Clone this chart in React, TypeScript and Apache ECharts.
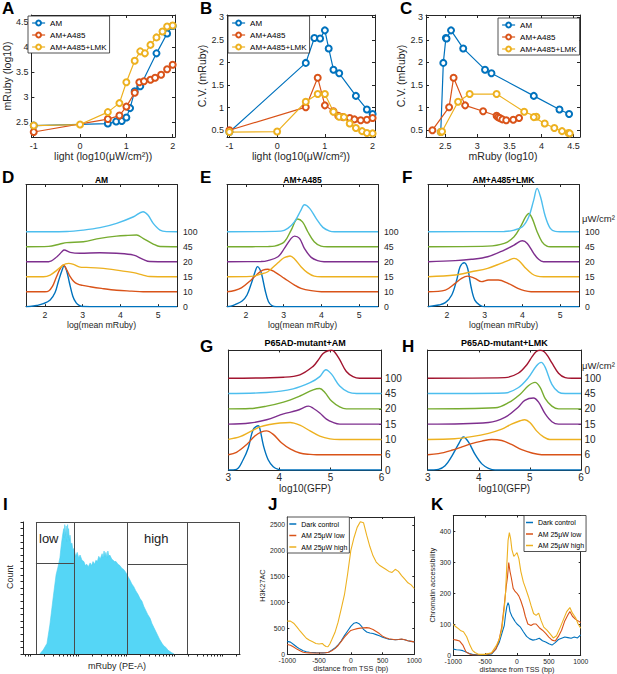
import React, { useEffect, useRef } from 'react';
import * as echarts from 'echarts';

const FONT = '"Liberation Sans", Arial, Helvetica, sans-serif';
const AXC = '#262626';
const BLUE = '#0072BD';
const ORANGE = '#D95319';
const YELLOW = '#EDB120';
const PURPLE = '#7E2F8E';
const GREEN = '#77AC30';
const CYAN = '#4DBEEE';
const DRED = '#A2142F';
const HIST = '#55D6F6';

// ---------- Panels A, B, C ----------
const namesABC = ['AM', 'AM+A485', 'AM+A485+LMK'];
const lightAM = [-1, 0.6, 0.78, 0.9, 1.0, 1.08, 1.18, 1.3, 1.65, 1.88, 2.0];
const mRubyAM = [2.43, 2.47, 2.51, 2.52, 2.59, 2.78, 3.12, 3.22, 3.88, 4.28, 4.43];
const cvAM = [0.46, 1.99, 2.54, 2.53, 2.71, 2.31, 1.84, 1.76, 1.26, 0.96, 0.86];
const lightA485 = [-1, 0.6, 0.85, 1.0, 1.18, 1.28, 1.38, 1.52, 1.62, 1.75, 1.88, 2.0];
const mRubyA485 = [2.3, 2.56, 2.63, 2.81, 3.09, 3.3, 3.32, 3.35, 3.39, 3.45, 3.56, 3.65];
const cvA485 = [0.5, 1.01, 1.66, 1.05, 0.92, 0.82, 0.79, 0.77, 0.74, 0.72, 0.73, 0.77];
const lightLMK = [-1, 0, 0.6, 0.85, 1.0, 1.18, 1.3, 1.4, 1.52, 1.65, 1.78, 1.88, 2.0];
const mRubyLMK = [2.43, 2.45, 2.7, 2.88, 3.3, 3.73, 3.92, 3.88, 4.05, 4.2, 4.32, 4.42, 4.44];
const cvLMK = [0.46, 0.47, 1.13, 1.3, 1.3, 0.91, 0.8, 0.79, 0.65, 0.55, 0.48, 0.44, 0.43];
const ticksLight = [-1, 0, 1, 2];
const ticksMRuby = [2.5, 3, 3.5, 4, 4.5];
const ticksCV = [0.5, 1, 1.5, 2, 2.5, 3];

// ---------- Panels D, E, F (x = log mean mRuby, height above baseline) ----------
const labelsDEF = ['0', '10', '15', '20', '45', '100'];
const colorsDEF = [BLUE, ORANGE, YELLOW, PURPLE, GREEN, CYAN];
const ticksDEF = [2, 3, 4, 5];
const D_0 = [[1.5, 0], [1.6, 0.01], [1.78, 0.08], [1.96, 0.2], [2.14, 0.45], [2.27, 0.95], [2.36, 1.7], [2.45, 2.4], [2.51, 2.72], [2.57, 2.45], [2.65, 1.6], [2.74, 0.7], [2.83, 0.25], [2.92, 0.07], [3.0, 0.01], [3.2, 0], [5.5, 0]];
const D_10 = [[1.5, 0], [2.0, 0], [2.1, 0.05], [2.2, 0.35], [2.3, 0.95], [2.4, 1.5], [2.49, 1.78], [2.58, 1.45], [2.67, 1.0], [2.76, 0.7], [2.86, 0.52], [3.0, 0.42], [3.2, 0.33], [3.5, 0.22], [3.9, 0.1], [4.3, 0.04], [4.6, 0], [5.5, 0]];
const D_15 = [[1.5, 0], [1.96, 0], [2.14, 0.11], [2.32, 0.44], [2.45, 0.71], [2.55, 0.85], [2.63, 0.89], [2.76, 0.82], [2.93, 0.64], [3.1, 0.62], [3.46, 0.57], [3.9, 0.44], [4.35, 0.27], [4.6, 0.11], [4.78, 0.01], [5.0, 0], [5.5, 0]];
const D_20 = [[1.5, 0], [2.1, 0], [2.32, 0.33], [2.45, 0.67], [2.51, 0.78], [2.67, 0.62], [2.93, 0.56], [3.46, 0.6], [3.9, 0.56], [4.35, 0.44], [4.6, 0.16], [4.78, 0.01], [5.0, 0], [5.5, 0]];
const D_45 = [[1.5, 0], [2.1, 0.02], [2.4, 0.18], [2.58, 0.27], [3.02, 0.33], [3.46, 0.56], [3.9, 0.71], [4.2, 0.76], [4.43, 0.78], [4.6, 0.56], [4.87, 0.18], [5.05, 0.01], [5.5, 0]];
const D_100 = [[1.5, 0], [2.58, 0.02], [3.02, 0.11], [3.46, 0.27], [3.9, 0.56], [4.35, 1.0], [4.6, 1.33], [4.73, 1.11], [4.87, 0.56], [5.05, 0.11], [5.22, 0.01], [5.5, 0]];
const E_0 = [[1.5, 0], [1.6, 0.03], [1.72, 0.15], [1.9, 0.38], [2.03, 0.78], [2.16, 1.67], [2.24, 2.3], [2.31, 2.67], [2.37, 2.5], [2.42, 2.15], [2.51, 1.1], [2.6, 0.33], [2.7, 0.05], [2.8, 0], [5.5, 0]];
const E_10 = [[1.5, 0], [1.7, 0.08], [1.88, 0.25], [2.14, 0.78], [2.32, 1.22], [2.45, 1.44], [2.58, 1.5], [2.76, 1.33], [3.02, 0.89], [3.29, 0.44], [3.46, 0.22], [3.73, 0.07], [4.0, 0], [5.5, 0]];
const E_15 = [[1.5, 0], [2.14, 0.02], [2.4, 0.18], [2.58, 0.33], [2.85, 0.93], [3.0, 1.25], [3.11, 1.35], [3.17, 1.38], [3.29, 1.18], [3.46, 0.67], [3.63, 0.27], [3.81, 0.04], [4.0, 0], [5.5, 0]];
const E_20 = [[1.5, 0], [2.4, 0.01], [2.58, 0.07], [2.85, 0.33], [3.02, 0.89], [3.2, 1.56], [3.29, 1.71], [3.42, 1.56], [3.55, 0.89], [3.73, 0.29], [3.9, 0.07], [4.07, 0], [5.5, 0]];
const E_45 = [[1.5, 0], [2.6, 0.01], [2.76, 0.04], [3.02, 0.33], [3.2, 1.11], [3.37, 1.85], [3.5, 1.66], [3.64, 1.0], [3.81, 0.33], [3.99, 0.04], [4.16, 0], [5.5, 0]];
const E_100 = [[1.5, 0], [2.93, 0.04], [3.11, 0.22], [3.29, 0.67], [3.46, 1.44], [3.55, 1.8], [3.69, 1.56], [3.86, 0.89], [4.04, 0.29], [4.22, 0.04], [4.35, 0], [5.5, 0]];
const F_0 = [[1.5, 0], [1.78, 0.11], [1.96, 0.27], [2.13, 0.78], [2.26, 1.78], [2.35, 2.67], [2.46, 2.93], [2.55, 2.56], [2.64, 1.33], [2.74, 0.44], [2.87, 0.11], [3.0, 0], [5.5, 0]];
const F_10 = [[1.5, 0], [1.96, 0.11], [2.22, 0.56], [2.39, 0.89], [2.55, 1.04], [2.74, 0.89], [2.92, 0.67], [3.1, 0.78], [3.36, 0.78], [3.62, 0.56], [3.88, 0.22], [4.05, 0.07], [4.23, 0], [5.5, 0]];
const F_15 = [[1.5, 0], [2.22, 0.11], [2.65, 0.33], [3.08, 0.56], [3.43, 0.89], [3.65, 1.11], [3.78, 1.22], [3.91, 1.07], [4.09, 0.56], [4.26, 0.18], [4.39, 0.04], [4.56, 0], [5.5, 0]];
const F_20 = [[1.5, 0], [2.22, 0.07], [2.65, 0.16], [3.08, 0.33], [3.52, 0.78], [3.78, 1.11], [3.95, 1.38], [4.0, 1.4], [4.13, 1.22], [4.3, 0.56], [4.43, 0.16], [4.56, 0], [5.5, 0]];
const F_45 = [[1.5, 0], [3.08, 0.04], [3.52, 0.22], [3.78, 0.67], [3.95, 1.33], [4.09, 2.0], [4.17, 2.22], [4.26, 1.89], [4.39, 1.0], [4.52, 0.33], [4.65, 0.04], [4.74, 0], [5.5, 0]];
const F_100 = [[1.5, 0], [3.52, 0.02], [3.78, 0.11], [4.0, 0.33], [4.17, 1.0], [4.3, 2.11], [4.39, 2.89], [4.48, 2.33], [4.61, 1.0], [4.74, 0.22], [4.87, 0.02], [5.0, 0], [5.5, 0]];

// ---------- Panels G, H (x = log10 GFP) ----------
const labelsGH = ['0', '6', '10', '15', '20', '45', '100'];
const colorsGH = [BLUE, ORANGE, YELLOW, PURPLE, GREEN, CYAN, DRED];
const ticksGH = [3, 4, 5, 6];
const G_0 = [[3.0, 0], [3.16, 0.04], [3.29, 0.67], [3.39, 1.44], [3.49, 2.67], [3.59, 2.89], [3.62, 2.67], [3.69, 1.56], [3.78, 0.67], [3.88, 0.22], [3.98, 0.04], [4.08, 0], [6, 0]];
const G_6 = [[3.0, 0], [3.16, 0.16], [3.36, 0.67], [3.52, 1.22], [3.65, 1.49], [3.75, 1.56], [3.88, 1.33], [4.04, 0.78], [4.21, 0.38], [4.4, 0.11], [4.6, 0.02], [4.73, 0], [6, 0]];
const G_10 = [[3.0, 0], [3.23, 0.18], [3.42, 0.49], [3.62, 0.82], [3.81, 0.98], [4.01, 1.07], [4.21, 1.11], [4.4, 0.93], [4.6, 0.56], [4.79, 0.22], [4.99, 0.04], [5.18, 0], [6, 0]];
const G_15 = [[3.0, 0], [3.42, 0.07], [3.75, 0.29], [4.08, 0.67], [4.34, 0.89], [4.53, 1.16], [4.57, 1.18], [4.66, 1.04], [4.79, 0.73], [4.92, 0.33], [5.05, 0.11], [5.18, 0], [6, 0]];
const G_20 = [[3.0, 0], [3.42, 0.02], [3.75, 0.18], [4.08, 0.44], [4.4, 0.84], [4.66, 1.24], [4.79, 1.33], [4.89, 1.07], [5.02, 0.51], [5.18, 0.13], [5.31, 0], [6, 0]];
const G_45 = [[3.0, 0], [3.75, 0.07], [4.27, 0.31], [4.6, 0.71], [4.79, 1.11], [4.91, 1.56], [5.02, 1.27], [5.18, 0.49], [5.35, 0.09], [5.51, 0], [6, 0]];
const G_100 = [[3.0, 0], [4.08, 0.07], [4.4, 0.22], [4.66, 0.78], [4.75, 1.15], [4.85, 1.6], [4.95, 1.8], [5.02, 1.83], [5.08, 1.72], [5.18, 1.22], [5.31, 0.44], [5.44, 0.11], [5.57, 0], [6, 0]];
const H_0 = [[3.0, 0], [3.21, 0.04], [3.34, 0.27], [3.47, 0.89], [3.6, 1.67], [3.7, 2.16], [3.8, 1.82], [3.93, 1.0], [4.06, 0.4], [4.19, 0.11], [4.32, 0], [6, 0]];
const H_6 = [[3.0, 0], [3.21, 0.07], [3.47, 0.29], [3.67, 0.51], [3.86, 0.73], [4.06, 0.89], [4.25, 1.0], [4.45, 0.93], [4.64, 0.67], [4.84, 0.33], [5.04, 0.11], [5.23, 0], [6, 0]];
const H_10 = [[3.0, 0], [3.53, 0.04], [3.86, 0.18], [4.19, 0.4], [4.45, 0.67], [4.64, 1.0], [4.81, 1.22], [4.9, 1.29], [5.0, 1.11], [5.13, 0.56], [5.26, 0.18], [5.39, 0], [6, 0]];
const H_15 = [[3.0, 0], [4.19, 0.11], [4.51, 0.44], [4.77, 1.11], [4.9, 1.56], [5.07, 1.71], [5.17, 1.44], [5.3, 0.67], [5.43, 0.16], [5.56, 0], [6, 0]];
const H_20 = [[3.0, 0], [4.32, 0.07], [4.58, 0.4], [4.81, 0.96], [4.97, 1.51], [5.1, 1.73], [5.2, 1.4], [5.3, 0.67], [5.43, 0.18], [5.56, 0], [6, 0]];
const H_45 = [[3.0, 0], [4.51, 0.04], [4.77, 0.38], [4.97, 1.04], [5.13, 1.82], [5.22, 2.04], [5.3, 1.71], [5.43, 0.6], [5.56, 0.09], [5.69, 0], [6, 0]];
const H_100 = [[3.0, 0], [4.51, 0.04], [4.77, 0.33], [4.94, 0.89], [5.04, 1.4], [5.12, 1.74], [5.2, 1.83], [5.28, 1.74], [5.36, 1.4], [5.43, 1.0], [5.56, 0.33], [5.69, 0.04], [5.82, 0], [6, 0]];

// ---------- Panel I (x = log10 PE-A, y = % of max count) ----------
const histI = [[1.2, 0], [1.27, 3], [1.35, 8], [1.41, 22], [1.48, 43], [1.54, 60], [1.58, 66], [1.62, 73], [1.64, 80], [1.66, 86], [1.68, 91], [1.7, 95], [1.71, 88], [1.72, 98], [1.74, 90], [1.75, 97], [1.77, 85], [1.78, 98], [1.79, 88], [1.8, 95], [1.82, 86], [1.83, 90], [1.85, 83], [1.87, 84], [1.89, 79], [1.91, 80], [1.95, 74], [1.98, 77], [2.01, 73], [2.04, 75], [2.08, 71], [2.12, 70], [2.15, 67], [2.18, 68], [2.21, 66], [2.25, 69], [2.28, 67], [2.31, 70], [2.34, 68], [2.37, 71], [2.4, 70], [2.43, 74], [2.46, 72], [2.5, 76], [2.52, 73], [2.54, 78], [2.56, 74], [2.58, 77], [2.6, 73], [2.62, 78], [2.64, 74], [2.66, 75], [2.7, 72], [2.73, 71], [2.76, 70], [2.79, 70], [2.83, 68], [2.87, 67], [2.91, 65], [2.95, 64], [2.99, 62], [3.02, 60], [3.05, 58], [3.08, 56], [3.12, 53], [3.16, 51], [3.2, 48], [3.25, 45], [3.29, 42], [3.33, 40], [3.37, 36], [3.41, 33], [3.45, 30], [3.5, 27], [3.54, 23], [3.58, 20], [3.62, 17], [3.66, 14], [3.7, 11], [3.75, 8], [3.79, 6], [3.83, 5], [3.87, 3], [3.91, 2], [3.95, 1], [4.0, 0]];
const gateLow = [1.12, 1.91];
const gateHigh = [3.02, 4.27];
const gateLevels = [69, 68];
const gateFrame = [5.36, 100];

// ---------- Panels J, K (x = distance from TSS) ----------
const namesJK = ['Dark control', 'AM 25\u03bcW low', 'AM 25\u03bcW high'];
const ticksTSS = [-1000, -500, 0, 500, 1000];
const ticksJ = [0, 500, 1000, 1500, 2000, 2500];
const ticksK = [0, 100, 200, 300, 400];
const J_dark = [[-1000, 250], [-950, 235], [-900, 190], [-850, 140], [-800, 100], [-750, 70], [-700, 50], [-650, 40], [-600, 35], [-550, 32], [-500, 30], [-450, 28], [-400, 30], [-350, 40], [-300, 80], [-250, 120], [-200, 180], [-150, 260], [-100, 360], [-50, 450], [0, 540], [50, 600], [90, 615], [130, 590], [170, 540], [200, 480], [250, 430], [300, 410], [350, 400], [400, 380], [450, 360], [500, 330], [550, 310], [600, 290], [650, 285], [700, 280], [750, 285], [800, 290], [850, 280], [900, 260], [950, 250], [1000, 240]];
const J_low = [[-1000, 190], [-950, 175], [-900, 140], [-850, 100], [-800, 70], [-750, 40], [-700, 30], [-650, 28], [-600, 25], [-500, 25], [-400, 30], [-350, 40], [-300, 70], [-250, 110], [-200, 170], [-150, 250], [-100, 330], [-50, 400], [0, 460], [50, 480], [100, 495], [150, 505], [200, 510], [250, 515], [300, 505], [350, 480], [400, 440], [450, 400], [500, 350], [550, 320], [600, 300], [650, 290], [700, 280], [750, 285], [800, 295], [850, 280], [900, 260], [950, 250], [1000, 240]];
const J_high = [[-1000, 640], [-950, 640], [-900, 600], [-850, 530], [-800, 450], [-750, 380], [-700, 310], [-650, 270], [-600, 240], [-550, 210], [-500, 200], [-450, 210], [-420, 175], [-390, 150], [-360, 145], [-330, 200], [-300, 280], [-250, 420], [-200, 620], [-150, 880], [-100, 1150], [-50, 1550], [0, 2000], [50, 2250], [100, 2450], [150, 2560], [200, 2540], [250, 2300], [300, 2080], [350, 1900], [400, 1780], [450, 1720], [500, 1680], [550, 1640], [600, 1600], [650, 1580], [700, 1640], [750, 1600], [800, 1520], [850, 1450], [900, 1380], [950, 1340], [1000, 1270]];
const K_dark = [[-1000, 19], [-950, 17], [-900, 16], [-850, 14], [-800, 10], [-750, 5], [-700, 2], [-600, 0], [-500, 1], [-400, 3], [-330, 20], [-280, 40], [-230, 75], [-200, 95], [-180, 130], [-160, 156], [-140, 169], [-125, 160], [-110, 140], [-80, 125], [-50, 115], [-30, 108], [0, 100], [50, 91], [100, 75], [150, 60], [200, 52], [250, 48], [300, 50], [350, 54], [400, 46], [450, 42], [500, 36], [550, 32], [600, 40], [650, 50], [700, 54], [750, 58], [800, 56], [850, 54], [900, 58], [950, 55], [1000, 65]];
const K_low = [[-1000, 50], [-950, 48], [-900, 45], [-850, 32], [-800, 10], [-750, 4], [-700, 0], [-600, 0], [-500, 2], [-400, 5], [-330, 20], [-280, 50], [-240, 90], [-200, 160], [-170, 220], [-150, 250], [-130, 298], [-110, 270], [-90, 250], [-60, 215], [-30, 205], [0, 199], [30, 190], [60, 175], [100, 150], [130, 125], [170, 100], [220, 95], [260, 100], [300, 100], [350, 88], [400, 80], [450, 70], [500, 58], [550, 48], [600, 45], [650, 60], [700, 80], [750, 110], [800, 130], [830, 140], [870, 125], [920, 115], [960, 110], [1000, 105]];
const K_high = [[-1000, 99], [-960, 91], [-920, 85], [-880, 78], [-840, 75], [-790, 59], [-740, 32], [-700, 15], [-660, 8], [-600, 2], [-500, 2], [-400, 7], [-320, 32], [-280, 50], [-240, 81], [-200, 150], [-180, 200], [-160, 290], [-140, 370], [-120, 395], [-100, 375], [-80, 340], [-50, 318], [-20, 325], [0, 330], [30, 310], [60, 270], [100, 235], [130, 218], [180, 188], [220, 160], [260, 134], [300, 128], [340, 135], [380, 110], [420, 90], [470, 80], [520, 68], [570, 55], [620, 62], [680, 90], [730, 115], [780, 140], [830, 153], [870, 135], [920, 120], [960, 100], [1000, 86]];

type Panel = {
  l: number; t: number; w: number; h: number;
  xmin: number; xmax: number; ymin: number; ymax: number;
  xticks: number[]; yticks: number[];
  xname?: string; yname?: string;
  xNameGap?: number; yNameGap?: number;
  xMargin?: number; yMargin?: number;
  tickFont: number; nameFont: number;
  yRight?: boolean; yFmt?: (v: number) => string;
  mirror?: boolean; inside?: boolean; tickLen?: number;
  xLabels?: boolean; yLabels?: boolean;
};

function buildOption() {
  const grids: any[] = [];
  const xAxes: any[] = [];
  const yAxes: any[] = [];
  const series: any[] = [];
  const graphics: any[] = [];
  const txt = (size: number) => ({ fontSize: size, color: AXC, fontFamily: FONT });

  function addPanel(p: Panel) {
    const gi = grids.length;
    grids.push({ left: p.l, top: p.t, width: p.w, height: p.h });
    const inside = p.inside !== false;
    const tickLen = p.tickLen ?? 3;
    const line = { show: true, onZero: false, lineStyle: { color: AXC, width: 1 } };
    const xi = xAxes.length;
    xAxes.push({
      gridIndex: gi, type: 'value', min: p.xmin, max: p.xmax, position: 'bottom',
      axisLine: line,
      axisTick: { show: true, inside, length: tickLen, customValues: p.xticks, lineStyle: { color: AXC } },
      axisLabel: { show: p.xLabels !== false, customValues: p.xticks, margin: p.xMargin ?? 4, formatter: (v: number) => String(v), ...txt(p.tickFont) },
      splitLine: { show: false },
      name: p.xname ?? '', nameLocation: 'middle', nameGap: p.xNameGap ?? 15, nameTextStyle: txt(p.nameFont),
    });
    const yi = yAxes.length;
    yAxes.push({
      gridIndex: gi, type: 'value', min: p.ymin, max: p.ymax, position: p.yRight ? 'right' : 'left',
      axisLine: line,
      axisTick: { show: true, inside, length: tickLen, customValues: p.yticks, lineStyle: { color: AXC } },
      axisLabel: { show: p.yLabels !== false, customValues: p.yticks, margin: p.yMargin ?? 4, formatter: p.yFmt ?? ((v: number) => String(v)), ...txt(p.tickFont) },
      splitLine: { show: false },
      name: p.yname ?? '', nameLocation: 'middle', nameGap: p.yNameGap ?? 15, nameTextStyle: txt(p.nameFont),
    });
    if (p.mirror !== false) {
      xAxes.push({
        gridIndex: gi, type: 'value', min: p.xmin, max: p.xmax, position: 'top', axisLine: line,
        axisTick: { show: true, inside: true, length: tickLen, customValues: p.xticks, lineStyle: { color: AXC } },
        axisLabel: { show: false }, splitLine: { show: false },
      });
      yAxes.push({
        gridIndex: gi, type: 'value', min: p.ymin, max: p.ymax, position: p.yRight ? 'left' : 'right', axisLine: line,
        axisTick: { show: !p.yRight, inside: true, length: tickLen, customValues: p.yticks, lineStyle: { color: AXC } },
        axisLabel: { show: false }, splitLine: { show: false },
      });
    }
    return { xi, yi };
  }

  const abcLine = (name: string, color: string, data: number[][], ax: { xi: number; yi: number }) => ({
    type: 'line', name, data, xAxisIndex: ax.xi, yAxisIndex: ax.yi,
    symbol: 'emptyCircle', symbolSize: 6, showSymbol: true,
    lineStyle: { color, width: 1.2 }, itemStyle: { color, borderWidth: 1 },
    emphasis: { disabled: true },
  });
  const ridgeLine = (name: string, color: string, curve: number[][], offset: number, ax: { xi: number; yi: number }) => ({
    type: 'line', name, xAxisIndex: ax.xi, yAxisIndex: ax.yi,
    data: curve.map(([x, h]) => [x, offset + h]),
    symbol: 'none', smooth: 0.35, lineStyle: { color, width: 1.4 }, emphasis: { disabled: true },
  });
  const tssLine = (name: string, color: string, data: number[][], ax: { xi: number; yi: number }) => ({
    type: 'line', name, data, xAxisIndex: ax.xi, yAxisIndex: ax.yi,
    symbol: 'none', lineStyle: { color, width: 1.1 }, itemStyle: { color }, emphasis: { disabled: true },
  });

  // ----- A, B, C -----
  const lightName = 'light (log10(\u03bcW/cm\u00b2))';
  const pA = addPanel({ l: 27, t: 15, w: 148, h: 122, xmin: -1.05, xmax: 2.05, ymin: 2.2, ymax: 4.65, xticks: ticksLight, yticks: ticksMRuby,
    xname: lightName, yname: 'mRuby (log10)', xNameGap: 13, yNameGap: 13.5, xMargin: 4, yMargin: 3, tickFont: 9, nameFont: 10.5 });
  const pB = addPanel({ l: 227, t: 15, w: 148, h: 122, xmin: -1.05, xmax: 2.05, ymin: 0.35, ymax: 3.05, xticks: ticksLight, yticks: ticksCV,
    xname: lightName, yname: 'C.V. (mRuby)', xNameGap: 13, yNameGap: 13.5, xMargin: 4, yMargin: 3, tickFont: 9, nameFont: 10.5 });
  const pC = addPanel({ l: 426, t: 15, w: 154, h: 122, xmin: 2.2, xmax: 4.6, ymin: 0.35, ymax: 3.05, xticks: ticksMRuby, yticks: ticksCV,
    xname: 'mRuby (log10)', yname: 'C.V. (mRuby)', xNameGap: 13, yNameGap: 15.5, xMargin: 4, yMargin: 3, tickFont: 9, nameFont: 10.5 });
  const abcSets = [
    { name: namesABC[0], color: BLUE, light: lightAM, mr: mRubyAM, cv: cvAM },
    { name: namesABC[1], color: ORANGE, light: lightA485, mr: mRubyA485, cv: cvA485 },
    { name: namesABC[2], color: YELLOW, light: lightLMK, mr: mRubyLMK, cv: cvLMK },
  ];
  abcSets.forEach((s) => {
    series.push(abcLine(s.name, s.color, s.light.map((x, i) => [x, s.mr[i]]), pA));
    series.push(abcLine(s.name, s.color, s.light.map((x, i) => [x, s.cv[i]]), pB));
    series.push(abcLine(s.name, s.color, s.mr.map((x, i) => [x, s.cv[i]]), pC));
  });

  // ----- D, E, F -----
  const defFmt = (v: number) => labelsDEF[Math.round(v)] ?? '';
  const ridgeDEF = (l: number, curves: number[][][], key: string) => {
    const ax = addPanel({ l, t: 184.5, w: 151, h: 122.2, xmin: 1.5, xmax: 5.5, ymin: 0, ymax: 8.15, xticks: ticksDEF, yticks: [0, 1, 2, 3, 4, 5],
      xname: 'log(mean mRuby)', xNameGap: 13, xMargin: 3.5, yMargin: 6, yRight: true, yFmt: defFmt, tickFont: 8.7, nameFont: 8.7, tickLen: 2.5 });
    curves.forEach((c, i) => series.push(ridgeLine(key + labelsDEF[i], colorsDEF[i], c, i, ax)));
  };
  ridgeDEF(26, [D_0, D_10, D_15, D_20, D_45, D_100], 'D');
  ridgeDEF(227, [E_0, E_10, E_15, E_20, E_45, E_100], 'E');
  ridgeDEF(428, [F_0, F_10, F_15, F_20, F_45, F_100], 'F');

  // ----- G, H -----
  const ghFmt = (v: number) => labelsGH[Math.round(v)] ?? '';
  const ridgeGH = (l: number, curves: number[][][], key: string) => {
    const ax = addPanel({ l, t: 350, w: 153.3, h: 120, xmin: 3, xmax: 6, ymin: 0, ymax: 7.85, xticks: ticksGH, yticks: [0, 1, 2, 3, 4, 5, 6],
      xname: 'log10(GFP)', xNameGap: 12.5, xMargin: 2.5, yMargin: 3.5, yRight: true, yFmt: ghFmt, tickFont: 10, nameFont: 10, tickLen: 2.5 });
    curves.forEach((c, i) => series.push(ridgeLine(key + labelsGH[i], colorsGH[i], c, i, ax)));
  };
  ridgeGH(228.3, [G_0, G_6, G_10, G_15, G_20, G_45, G_100], 'G');
  ridgeGH(427.7, [H_0, H_6, H_10, H_15, H_20, H_45, H_100], 'H');

  // ----- I -----
  const logTicks: number[] = [];
  for (let d = 0; d <= 5; d++) for (let k = 1; k <= 9; k++) {
    const v = d + Math.log10(k);
    if (v >= 0.85 && v <= 5.37) logTicks.push(v);
  }
  const yTicksI: number[] = [];
  for (let v = 0; v <= 100; v += 5) yTicksI.push(v);
  const pI = addPanel({ l: 23, t: 522, w: 217, h: 132, xmin: 0.85, xmax: 5.375, ymin: 0, ymax: 100, xticks: logTicks, yticks: yTicksI,
    xLabels: false, yLabels: false, mirror: false, inside: false, tickLen: 2.5, tickFont: 9, nameFont: 9 });
  const gl = (x1: number, y1: number, x2: number, y2: number) => [{ coord: [x1, y1] }, { coord: [x2, y2] }];
  series.push({
    type: 'line', name: 'hist', xAxisIndex: pI.xi, yAxisIndex: pI.yi, data: histI, symbol: 'none',
    lineStyle: { color: '#4CCFF0', width: 0.6 }, areaStyle: { color: HIST, opacity: 1 }, emphasis: { disabled: true },
    markLine: {
      silent: true, symbol: 'none', label: { show: false }, lineStyle: { color: '#4a4a4a', width: 1, type: 'solid' },
      data: [
        gl(gateLow[0], 0, gateLow[0], gateFrame[1]),
        gl(gateLow[1], 0, gateLow[1], gateFrame[1]),
        gl(gateHigh[0], 0, gateHigh[0], gateFrame[1]),
        gl(gateHigh[1], 0, gateHigh[1], gateFrame[1]),
        gl(gateFrame[0], 0, gateFrame[0], gateFrame[1]),
        gl(gateLow[0], gateFrame[1], gateFrame[0], gateFrame[1]),
        gl(gateLow[0], gateLevels[0], gateLow[1], gateLevels[0]),
        gl(gateHigh[0], gateLevels[1], gateHigh[1], gateLevels[1]),
      ],
    },
  });

  // ----- J, K -----
  const pJ = addPanel({ l: 287.3, t: 517, w: 127, h: 137.3, xmin: -1000, xmax: 1000, ymin: 0, ymax: 2650, xticks: ticksTSS, yticks: ticksJ,
    xname: 'distance from TSS (bp)', yname: 'H3K27AC', xNameGap: 8.5, yNameGap: 18.5, xMargin: 3, yMargin: 2.3, tickFont: 6.8, nameFont: 7.3, tickLen: 2 });
  const pK = addPanel({ l: 453.3, t: 515.5, w: 127.4, h: 139.5, xmin: -1000, xmax: 1000, ymin: 0, ymax: 450, xticks: ticksTSS, yticks: ticksK,
    xname: 'distance from TSS (bp)', yname: 'Chromatin accessibility', xNameGap: 8.5, yNameGap: 13, xMargin: 3, yMargin: 2.3, tickFont: 6.8, nameFont: 7.3, tickLen: 2 });
  series.push(tssLine(namesJK[0], BLUE, J_dark, pJ));
  series.push(tssLine(namesJK[1], ORANGE, J_low, pJ));
  series.push(tssLine(namesJK[2], YELLOW, J_high, pJ));
  series.push(tssLine(namesJK[0], BLUE, K_dark, pK));
  series.push(tssLine(namesJK[1], ORANGE, K_low, pK));
  series.push(tssLine(namesJK[2], YELLOW, K_high, pK));

  // ----- legends -----
  const legABC = (left: number, top: number) => ({
    left, top, orient: 'vertical', data: namesABC, selectedMode: false,
    backgroundColor: '#fff', borderColor: AXC, borderWidth: 0.8, borderRadius: 0,
    padding: [3, 3, 2, 3.5], itemGap: 4, itemWidth: 13, itemHeight: 6,
    itemStyle: { borderWidth: 1 }, lineStyle: { width: 1.2 },
    textStyle: { fontSize: 8, color: '#000', fontFamily: FONT },
  });
  const legJK = (left: number, top: number) => ({
    left, top, orient: 'vertical', data: namesJK, selectedMode: false, icon: 'rect',
    backgroundColor: '#fff', borderColor: AXC, borderWidth: 0.8, borderRadius: 0,
    padding: [3, 2, 2, 2], itemGap: 3.5, itemWidth: 7, itemHeight: 1.5,
    textStyle: { fontSize: 7, color: '#000', fontFamily: FONT, lineHeight: 8 },
  });

  // ----- texts -----
  const letter = (t: string, x: number, y: number) => ({ type: 'text', x, y, style: { text: t, fontSize: 17, fontWeight: 'bold', fill: '#000', fontFamily: FONT, verticalAlign: 'top' } });
  const title = (t: string, x: number, y: number, size: number) => ({ type: 'text', x, y, style: { text: t, fontSize: size, fontWeight: 'bold', fill: '#000', fontFamily: FONT, align: 'center', verticalAlign: 'middle' } });
  const plain = (t: string, x: number, y: number, size: number) => ({ type: 'text', x, y, style: { text: t, fontSize: size, fill: AXC, fontFamily: FONT, verticalAlign: 'middle' } });
  graphics.push(
    letter('A', 2, 0), letter('B', 200, 0), letter('C', 400, 0),
    letter('D', 2, 169), letter('E', 200, 169), letter('F', 402, 169),
    letter('G', 200, 338), letter('H', 402, 338),
    letter('I', 3, 496), letter('J', 268, 496), letter('K', 431, 496),
    title('AM', 101.5, 180, 8.5), title('AM+A485', 302.5, 180, 8.5), title('AM+A485+LMK', 503.5, 180, 8.5),
    title('P65AD-mutant+AM', 305, 343, 9), title('P65AD-mutant+LMK', 504.3, 343, 9),
    plain('\u03bcW/cm\u00b2', 582, 218, 9.5),
    plain('\u03bcW/cm\u00b2', 582, 365, 9.5),
    { type: 'text', x: 39, y: 538, style: { text: 'low', fontSize: 13, fill: '#222', fontFamily: FONT, verticalAlign: 'middle' } },
    { type: 'text', x: 144, y: 538, style: { text: 'high', fontSize: 13, fill: '#222', fontFamily: FONT, verticalAlign: 'middle' } },
    { type: 'text', x: 117, y: 666, style: { text: 'mRuby (PE-A)', fontSize: 9, fill: AXC, fontFamily: FONT, align: 'center', verticalAlign: 'middle' } },
    { type: 'text', x: 10, y: 577, rotation: Math.PI / 2, style: { text: 'Count', fontSize: 9, fill: AXC, fontFamily: FONT, align: 'center', verticalAlign: 'middle' } },
  );

  return {
    animation: false,
    backgroundColor: '#fff',
    textStyle: { fontFamily: FONT },
    grid: grids,
    xAxis: xAxes,
    yAxis: yAxes,
    legend: [legABC(28, 16), legABC(228, 16), legABC(498, 18), legJK(287.3, 517), legJK(524, 515.5)],
    series,
    graphic: graphics,
  };
}

export default function App() {
  const ref = useRef<HTMLDivElement>(null);
  useEffect(() => {
    if (!ref.current) return;
    const chart = echarts.init(ref.current, null, { renderer: 'svg', width: 617, height: 674 });
    chart.setOption(buildOption() as any);
    return () => chart.dispose();
  }, []);
  return <div ref={ref} style={{ position: 'absolute', left: 0, top: 0, width: 617, height: 674, background: '#fff' }} />;
}
